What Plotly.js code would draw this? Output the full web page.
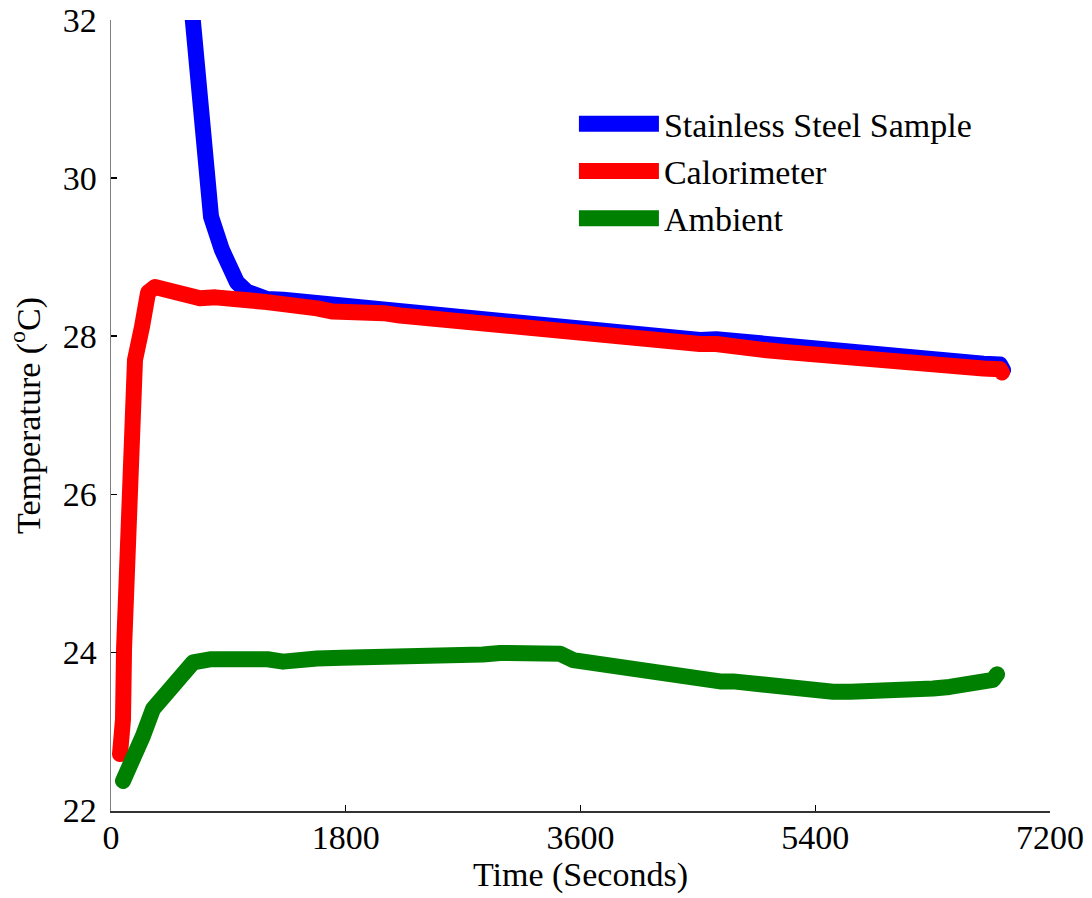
<!DOCTYPE html>
<html>
<head>
<meta charset="utf-8">
<script src="https://cdn.plot.ly/plotly-3.0.1.min.js"></script>
<style>
  html, body { margin: 0; padding: 0; background: #fff; }
  #chart { width: 1092px; height: 898px; }
  .scatterlayer path.js-line { stroke-linejoin: round; stroke-linecap: round; }
  .legend .legendlines path { stroke-width: 16px !important; stroke-linecap: butt; }
</style>
</head>
<body>
<div id="chart"></div>
<script>
// ---- Data (time in seconds, temperature in degC) ----
var sampleTime = [560, 621, 721, 767, 851, 913, 966, 1043, 1196, 1320, 1449, 1580, 1702, 1830, 1963, 2090, 2216, 2340, 2469, 2600, 2730, 2850, 2983, 3110, 3236, 3370, 3497, 3620, 3750, 3880, 4003, 4130, 4263, 4390, 4516, 4640, 4770, 4900, 5030, 5160, 5283, 5410, 5536, 5670, 5797, 5920, 6050, 6180, 6303, 6430, 6564, 6690, 6817, 6840];
var sampleTemp = [33.2, 32.00, 30.02, 29.51, 29.09, 28.86, 28.68, 28.56, 28.47, 28.46, 28.44, 28.39, 28.36, 28.37, 28.35, 28.33, 28.31, 28.29, 28.26, 28.25, 28.22, 28.20, 28.17, 28.18, 28.16, 28.11, 28.08, 28.08, 28.05, 28.05, 28.03, 28.00, 27.98, 27.96, 27.95, 27.96, 27.94, 27.90, 27.87, 27.85, 27.83, 27.80, 27.78, 27.77, 27.75, 27.72, 27.71, 27.69, 27.69, 27.67, 27.66, 27.65, 27.64, 27.57];

var calTime = [69, 92, 100, 107, 123, 138, 153, 169, 184, 238, 284, 337, 391, 429, 550, 682, 800, 936, 1070, 1196, 1320, 1449, 1580, 1702, 1830, 1963, 2090, 2216, 2340, 2469, 2600, 2730, 2850, 2983, 3110, 3236, 3370, 3497, 3620, 3750, 3880, 4003, 4130, 4263, 4390, 4516, 4640, 4770, 4900, 5030, 5160, 5283, 5410, 5536, 5670, 5797, 5920, 6050, 6180, 6303, 6430, 6564, 6690, 6817, 6832];
var calTemp = [22.71, 23.15, 24.04, 24.41, 25.17, 25.93, 26.69, 27.28, 27.70, 28.12, 28.55, 28.62, 28.60, 28.54, 28.52, 28.48, 28.49, 28.45, 28.45, 28.43, 28.42, 28.40, 28.35, 28.31, 28.32, 28.30, 28.29, 28.26, 28.24, 28.21, 28.20, 28.17, 28.15, 28.12, 28.13, 28.11, 28.06, 28.03, 28.02, 28.00, 28.00, 27.98, 27.96, 27.93, 27.92, 27.90, 27.90, 27.89, 27.84, 27.82, 27.80, 27.78, 27.76, 27.73, 27.72, 27.70, 27.67, 27.66, 27.64, 27.64, 27.61, 27.61, 27.59, 27.58, 27.54];

var ambTime = [92, 169, 245, 322, 429, 529, 629, 759, 900, 1066, 1200, 1319, 1450, 1580, 1770, 1963, 2216, 2346, 2469, 2600, 2730, 2850, 2983, 3110, 3236, 3370, 3443, 3543, 3650, 3750, 3880, 4003, 4130, 4263, 4390, 4516, 4670, 4770, 4900, 5030, 5160, 5283, 5410, 5536, 5670, 5797, 5920, 6050, 6180, 6303, 6430, 6564, 6690, 6763, 6794];
var ambTemp = [22.37, 22.61, 22.94, 23.28, 23.50, 23.74, 23.87, 23.91, 23.92, 23.90, 23.91, 23.88, 23.91, 23.92, 23.93, 23.93, 23.95, 23.95, 23.95, 23.96, 23.97, 23.97, 23.99, 23.98, 23.97, 23.98, 23.98, 23.90, 23.87, 23.85, 23.81, 23.78, 23.75, 23.72, 23.69, 23.67, 23.63, 23.63, 23.60, 23.58, 23.55, 23.52, 23.51, 23.50, 23.50, 23.50, 23.50, 23.51, 23.52, 23.54, 23.56, 23.59, 23.62, 23.65, 23.72];

var seriesNames = ["Stainless Steel Sample", "Calorimeter", "Ambient"];
var xTicks = [0, 1800, 3600, 5400, 7200];
var yTicks = [22, 24, 26, 28, 30, 32];

var FONT = "Liberation Serif, Times New Roman, serif";
var FS = 34;
var LW = 16;

var traces = [
  {x: sampleTime, y: sampleTemp, name: seriesNames[0], type: "scatter", mode: "lines",
   line: {color: "#0000ff", width: LW}},
  {x: calTime, y: calTemp, name: seriesNames[1], type: "scatter", mode: "lines",
   line: {color: "#ff0000", width: LW}},
  {x: ambTime, y: ambTemp, name: seriesNames[2], type: "scatter", mode: "lines",
   line: {color: "#008000", width: LW}}
];

var layout = {
  width: 1092, height: 898,
  paper_bgcolor: "#ffffff", plot_bgcolor: "#ffffff",
  margin: {l: 111, r: 42, t: 20, b: 87, pad: 0},
  font: {family: FONT, size: FS, color: "#000"},
  showlegend: true,
  legend: {
    x: 0.493, y: 0.905, xanchor: "left", yanchor: "top",
    bgcolor: "rgba(0,0,0,0)", borderwidth: 0,
    font: {family: FONT, size: FS, color: "#000"},
    itemwidth: 80, tracegroupgap: 0
  },
  xaxis: {
    range: [0, 7200], tickvals: xTicks, ticktext: xTicks.map(String),
    ticks: "inside", ticklen: 6, tickwidth: 1.2, tickcolor: "#000",
    showline: true, linecolor: "#333", linewidth: 1.5,
    showgrid: false, zeroline: false, mirror: false,
    ticklabelstandoff: -4,
    tickfont: {family: FONT, size: FS, color: "#000"},
    title: {text: "Time (Seconds)", font: {family: FONT, size: FS, color: "#000"}, standoff: 4}
  },
  yaxis: {
    range: [21.99, 32], tickvals: yTicks, ticktext: yTicks.map(String),
    ticks: "inside", ticklen: 6, tickwidth: 1.2, tickcolor: "#000",
    showline: true, linecolor: "#808080", linewidth: 1.5,
    showgrid: false, zeroline: false, mirror: false,
    ticklabelstandoff: 6,
    tickfont: {family: FONT, size: FS, color: "#000"},
    title: {text: "Temperature (<sup>o</sup>C)", font: {family: FONT, size: FS, color: "#000"}, standoff: 12}
  }
};

Plotly.newPlot("chart", traces, layout, {displayModeBar: false, staticPlot: true});
</script>
</body>
</html>
